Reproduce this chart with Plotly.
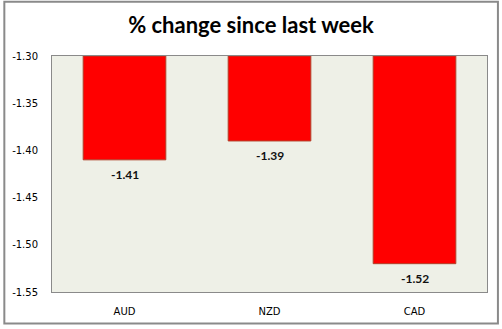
import plotly.graph_objects as go

categories = ["AUD", "NZD", "CAD"]
values = [-1.41, -1.39, -1.52]
axis_base = -1.30
y_ticks = [-1.30, -1.35, -1.40, -1.45, -1.50, -1.55]

fig = go.Figure()
fig.add_trace(go.Bar(
    x=categories,
    y=[v - axis_base for v in values],
    base=axis_base,
    width=0.57,
    marker=dict(color="#ff0000", line=dict(color="#b0402a", width=1)),
    hoverinfo="skip",
))

annotations = [dict(x=c, y=v, xref="x", yref="y", text=f"<b>{v:.2f}</b>".replace("\u2212", "-"),
                    showarrow=False, yanchor="middle", yshift=-15,
                    font=dict(family="Lato", size=12, color="#111111"))
               for c, v in zip(categories, values)]

fig.update_layout(
    width=502, height=329,
    margin=dict(l=49, r=15, t=56, b=34),
    paper_bgcolor="white",
    plot_bgcolor="#eef0e7",
    showlegend=False,
    annotations=annotations,
    title=dict(text="<b>% change since last week</b>", x=0.5, xanchor="center",
               y=1 - 25 / 329, yanchor="middle",
               font=dict(family="Lato", size=22, color="black")),
    shapes=[dict(type="rect", xref="paper", yref="paper",
                 x0=(1 - 49) / 438, x1=(498 - 49) / 438,
                 y0=(295 - 327) / 239, y1=(295 - 1) / 239,
                 line=dict(color="#8a8a8a", width=2), fillcolor="rgba(0,0,0,0)", layer="below")],
)
fig.update_xaxes(showgrid=False, showline=True, linecolor="#8a8a8a", mirror=True,
                 tickfont=dict(family="DejaVu Sans", size=10, color="black"), ticks="",
                 ticklabelstandoff=10)
fig.update_yaxes(range=[-1.55, -1.30], tickvals=y_ticks,
                 ticktext=[f"{t:.2f}" for t in y_ticks],
                 showgrid=False, zeroline=False, showline=True, linecolor="#8a8a8a", mirror=True,
                 tickfont=dict(family="DejaVu Sans", size=10, color="black"), ticks="",
                 ticklabelstandoff=11)

fig.write_html("out.html")
